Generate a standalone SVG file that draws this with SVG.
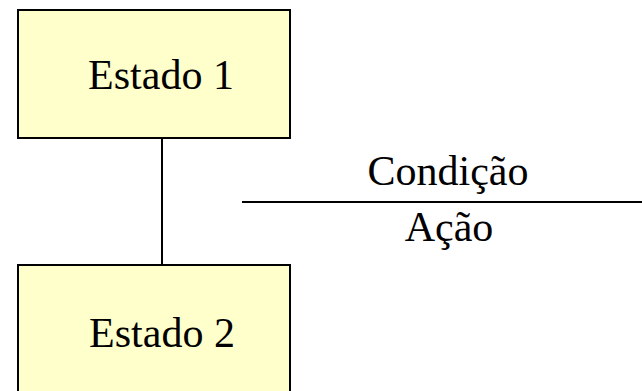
<svg xmlns="http://www.w3.org/2000/svg" width="642" height="391" viewBox="0 0 642 391">
<style>
.box{fill:#FFFFCC;stroke:#000;stroke-width:2}
.t{font-family:"Liberation Serif","Times New Roman",serif;font-size:42px;fill:#000}
.c{stroke:#000;fill:none}
</style>
<rect width="642" height="391" fill="#fff"/>
<g id="connectors">
<line class="c" x1="162" y1="138" x2="162" y2="265" stroke-width="2"/>
<line class="c" x1="242" y1="202" x2="642" y2="202" stroke-width="2"/>
</g>
<g id="estado1">
<rect class="box" x="18" y="10" width="272" height="128"/>
<text class="t" x="161" y="89" text-anchor="middle">Estado 1</text>
</g>
<g id="estado2">
<rect class="box" x="18" y="265" width="272" height="140"/>
<text class="t" x="162" y="347" text-anchor="middle">Estado 2</text>
</g>
<g id="label">
<text class="t" x="448" y="185" text-anchor="middle">Condição</text>
<text class="t" x="449" y="241" text-anchor="middle">Ação</text>
</g>
</svg>
